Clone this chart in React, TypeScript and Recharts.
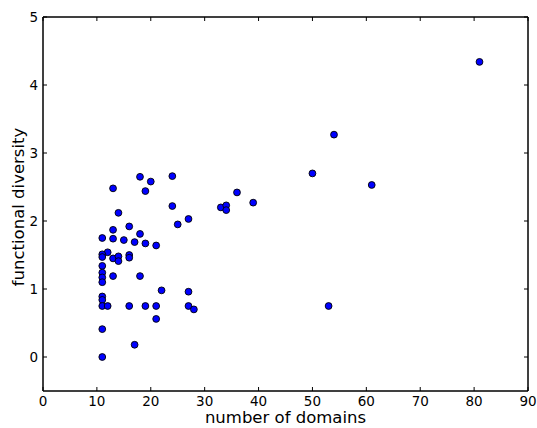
import React from 'react';
import { ScatterChart, Scatter, XAxis, YAxis, ReferenceArea } from 'recharts';

const domains = [
  18, 20, 24, 13, 19, 24, 14, 27, 25, 13, 16, 18, 11, 13, 15, 17, 19, 21,
  12, 11, 11, 13, 14, 14, 16, 16, 11, 11, 11, 11, 13, 18, 22, 27, 11, 11,
  11, 12, 16, 19, 21, 27, 28, 21, 11, 17, 11,
  50, 61, 36, 39, 33, 34, 34, 53, 54, 81,
];
const diversity = [
  2.65, 2.58, 2.66, 2.48, 2.44, 2.22, 2.12, 2.03, 1.95, 1.87, 1.92, 1.81, 1.75, 1.74, 1.72, 1.69, 1.67, 1.64,
  1.54, 1.51, 1.47, 1.45, 1.48, 1.41, 1.50, 1.46, 1.34, 1.24, 1.17, 1.10, 1.19, 1.19, 0.98, 0.96, 0.89, 0.84,
  0.75, 0.75, 0.75, 0.75, 0.75, 0.75, 0.70, 0.56, 0.41, 0.18, 0.0,
  2.70, 2.53, 2.42, 2.27, 2.20, 2.23, 2.16, 0.75, 3.27, 4.34,
];
const xTicks = [0, 10, 20, 30, 40, 50, 60, 70, 80, 90];
const yTicks = [0, 1, 2, 3, 4, 5];
const xDomain: [number, number] = [0, 90];
const yDomain: [number, number] = [-0.5, 5];

const points = domains.map((d, i) => ({ x: d, y: diversity[i] }));

const FONT = "'DejaVu Sans', sans-serif";
const TICK = 4;

const BottomTick = (p: any) => (
  <g>
    <line x1={p.x} x2={p.x} y1={p.y} y2={p.y - TICK} stroke="#000" strokeWidth={1} />
    <text x={p.x} y={p.y + 15} textAnchor="middle" fontSize={13.5} fontFamily={FONT} fill="#000">
      {p.payload.value}
    </text>
  </g>
);
const TopTick = (p: any) => (
  <line x1={p.x} x2={p.x} y1={p.y} y2={p.y + TICK} stroke="#000" strokeWidth={1} />
);
const LeftTick = (p: any) => (
  <g>
    <line x1={p.x} x2={p.x + TICK} y1={p.y} y2={p.y} stroke="#000" strokeWidth={1} />
    <text x={p.x - 5} y={p.y + 5} textAnchor="end" fontSize={13.5} fontFamily={FONT} fill="#000">
      {p.payload.value}
    </text>
  </g>
);
const RightTick = (p: any) => (
  <line x1={p.x} x2={p.x - TICK} y1={p.y} y2={p.y} stroke="#000" strokeWidth={1} />
);

const Dot = (p: any) => (
  <circle cx={p.cx} cy={p.cy} r={3.4} fill="#0000ff" stroke="#000" strokeWidth={0.9} />
);
const NoDot = () => <g />;

const XLabel = (p: any) => {
  const vb = p.viewBox || {};
  return (
    <text x={vb.x + vb.width / 2} y={vb.y + 32} textAnchor="middle" fontSize={16.5} fontFamily={FONT} fill="#000">
      number of domains
    </text>
  );
};
const YLabel = (p: any) => {
  const vb = p.viewBox || {};
  const cx = vb.x + 24;
  const cy = vb.y + vb.height / 2 + 3;
  return (
    <text x={cx} y={cy} transform={`rotate(-90 ${cx} ${cy})`} textAnchor="middle" fontSize={16.5} fontFamily={FONT} fill="#000">
      functional diversity
    </text>
  );
};

export default function App() {
  return (
    <div style={{ position: 'absolute', left: 0, top: 0, width: 537, height: 428, background: '#fff' }}>
      <ScatterChart width={537} height={428} margin={{ top: 16, right: 8, bottom: 0, left: 0 }}>
        <XAxis
          xAxisId={0}
          type="number"
          dataKey="x"
          domain={xDomain}
          ticks={xTicks}
          interval={0}
          tickSize={0}
          tickMargin={0}
          tickLine={false}
          tick={<BottomTick />}
          axisLine={{ stroke: '#000', strokeWidth: 1 }}
          height={37}
          allowDataOverflow
          label={<XLabel />}
        />
        <XAxis
          xAxisId="top"
          orientation="top"
          type="number"
          dataKey="x"
          domain={xDomain}
          ticks={xTicks}
          interval={0}
          tickSize={0}
          tickMargin={0}
          tickLine={false}
          tick={<TopTick />}
          axisLine={{ stroke: '#000', strokeWidth: 1 }}
          height={1}
          allowDataOverflow
        />
        <YAxis
          yAxisId={0}
          type="number"
          dataKey="y"
          domain={yDomain}
          ticks={yTicks}
          interval={0}
          tickSize={0}
          tickMargin={0}
          tickLine={false}
          tick={<LeftTick />}
          axisLine={{ stroke: '#000', strokeWidth: 1 }}
          width={43}
          allowDataOverflow
          label={<YLabel />}
        />
        <YAxis
          yAxisId="right"
          orientation="right"
          type="number"
          dataKey="y"
          domain={yDomain}
          ticks={yTicks}
          interval={0}
          tickSize={0}
          tickMargin={0}
          tickLine={false}
          tick={<RightTick />}
          axisLine={{ stroke: '#000', strokeWidth: 1 }}
          width={1}
          allowDataOverflow
        />
        <ReferenceArea
          xAxisId={0}
          yAxisId={0}
          x1={xDomain[0]}
          x2={xDomain[1]}
          y1={yDomain[0]}
          y2={yDomain[1]}
          fill="none"
          fillOpacity={0}
          stroke="#000"
          strokeWidth={1}
          ifOverflow="visible"
        />
        <Scatter data={points} xAxisId="top" yAxisId="right" shape={<NoDot />} isAnimationActive={false} />
        <Scatter data={points} xAxisId={0} yAxisId={0} shape={<Dot />} isAnimationActive={false} />
      </ScatterChart>
    </div>
  );
}
